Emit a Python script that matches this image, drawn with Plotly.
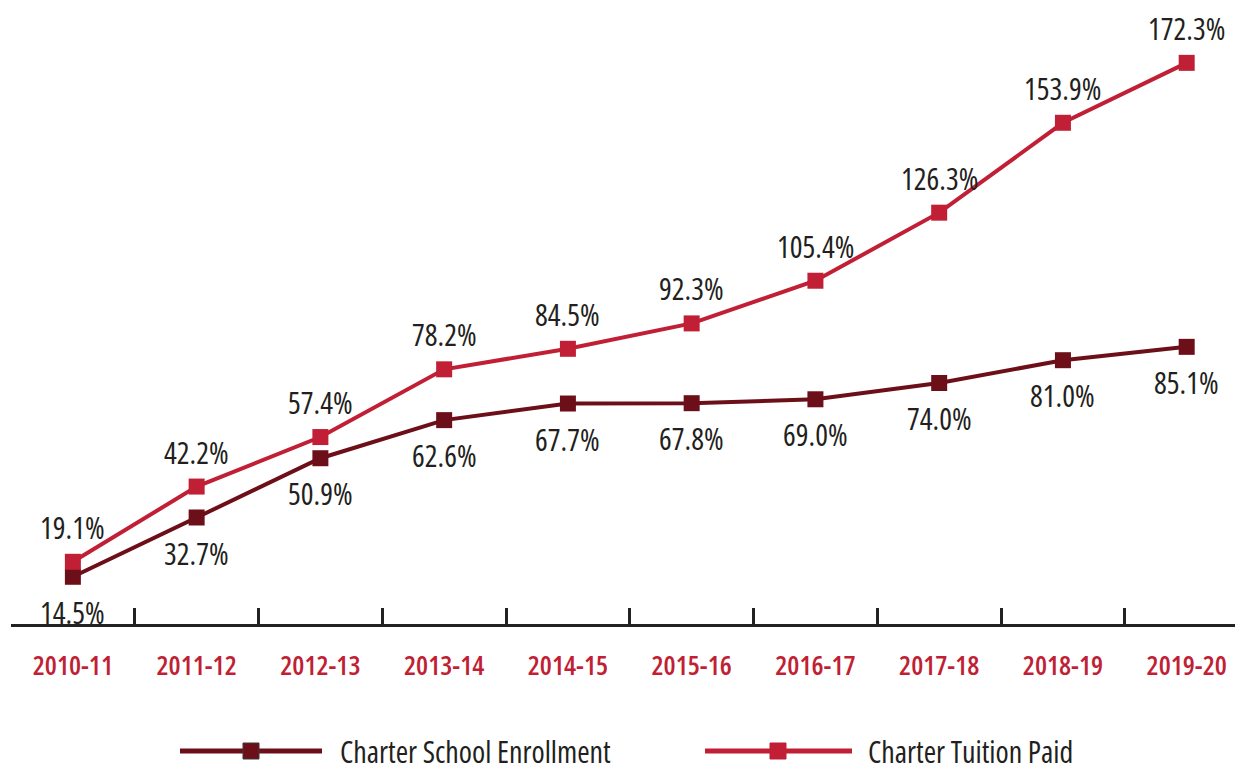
import plotly.graph_objects as go

years = ["2010-11", "2011-12", "2012-13", "2013-14", "2014-15",
         "2015-16", "2016-17", "2017-18", "2018-19", "2019-20"]
enrollment = [14.5, 32.7, 50.9, 62.6, 67.7, 67.8, 69.0, 74.0, 81.0, 85.1]
tuition = [19.1, 42.2, 57.4, 78.2, 84.5, 92.3, 105.4, 126.3, 153.9, 172.3]
series_names = ["Charter School Enrollment", "Charter Tuition Paid"]

ENR_COLOR = "#6d0f19"
TUI_COLOR = "#c11f35"
TEXT_COLOR = "#231f20"
FONT = "Open Sans"

# the page body adds an 8px offset around the figure; compensate for it
OFF = 8
W, H = 1243 - OFF, 770
plot_left, plot_right, plot_top, plot_bottom = 11 - OFF, W, 0, 624 - OFF


def cond(text, weight=400):
    return f"<span style='font-stretch:condensed;font-weight:{weight}'>{text}</span>"


fig = go.Figure()
fig.add_trace(go.Scatter(
    x=years, y=enrollment, mode="lines+markers", name=series_names[0],
    line=dict(color=ENR_COLOR, width=4),
    marker=dict(symbol="square", size=16, color=ENR_COLOR),
    hoverinfo="skip"))
fig.add_trace(go.Scatter(
    x=years, y=tuition, mode="lines+markers", name=series_names[1],
    line=dict(color=TUI_COLOR, width=4),
    marker=dict(symbol="square", size=16, color=TUI_COLOR),
    hoverinfo="skip"))

for yr, v in zip(years, tuition):
    fig.add_annotation(x=yr, y=v, text=cond(f"{v:.1f}%", 500), showarrow=False,
                       yshift=35, height=32,
                       font=dict(family=FONT, size=30, color=TEXT_COLOR))
for yr, v in zip(years, enrollment):
    fig.add_annotation(x=yr, y=v, text=cond(f"{v:.1f}%", 500), showarrow=False,
                       yshift=-35, height=32,
                       font=dict(family=FONT, size=30, color=TEXT_COLOR))


def pxx(px):
    return (px - OFF - plot_left) / (plot_right - plot_left)


def pxy(py):
    return (plot_bottom - (py - OFF)) / (plot_bottom - plot_top)


ly = 751
legend_items = [
    (series_names[0], ENR_COLOR, 180, 322, 251, 338, "#3a3a3a"),
    (series_names[1], TUI_COLOR, 705, 852, 778, 866, TUI_COLOR),
]
for name, col, x0, x1, xm, xt, border in legend_items:
    fig.add_shape(type="line", xref="paper", yref="paper",
                  x0=pxx(x0), x1=pxx(x1), y0=pxy(ly), y1=pxy(ly),
                  line=dict(color=col, width=5))
    fig.add_shape(type="rect", xref="paper", yref="paper",
                  x0=pxx(xm - 8), x1=pxx(xm + 8), y0=pxy(ly - 8), y1=pxy(ly + 8),
                  fillcolor=col, line=dict(color=border, width=1))
    fig.add_annotation(xref="paper", yref="paper", x=pxx(xt), y=pxy(ly),
                       text=cond(name, 500), showarrow=False,
                       xanchor="left", yanchor="middle", height=32,
                       font=dict(family=FONT, size=30, color=TEXT_COLOR))

# y value at page top (page y = OFF is figure top)
px_per_unit = 624 / 191.6
y_top = (624 - OFF) / px_per_unit

fig.update_xaxes(
    type="category", range=[-0.5, 9.455],
    tickmode="array", tickvals=years, ticktext=[cond(y, 600) for y in years],
    tickson="boundaries", ticks="inside", ticklen=16, tickwidth=2.5,
    tickcolor="#222222", showline=True, linecolor="#222222", linewidth=3,
    showgrid=False, zeroline=False, automargin=False,
    tickfont=dict(family=FONT, size=27, color=TUI_COLOR),
    ticklabelstandoff=16)
fig.update_yaxes(range=[0, y_top], visible=False, showgrid=False,
                 zeroline=False, automargin=False)

fig.update_layout(
    width=W, height=H,
    margin=dict(l=plot_left, r=W - plot_right, t=plot_top, b=H - plot_bottom),
    plot_bgcolor="white", paper_bgcolor="white", showlegend=False)

fig.write_html("out.html")
